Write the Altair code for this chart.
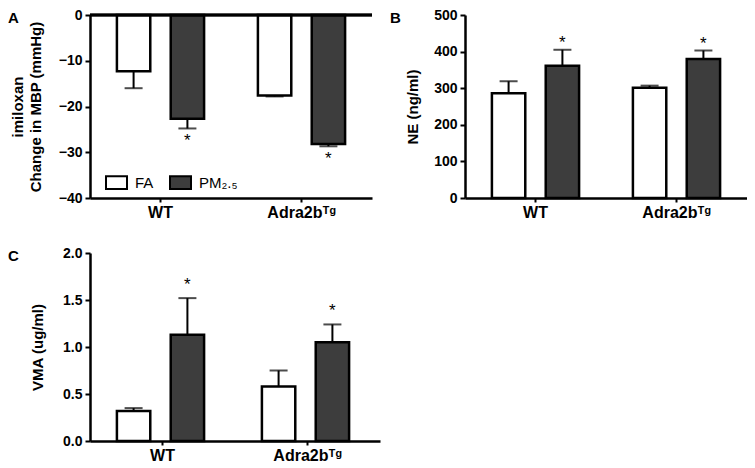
import altair as alt
import pandas as pd

group_order = ["WT", "Adra2bᵀᵍ"]
series_order = ["FA", "PM₂.₅"]
groups = ["WT", "WT", "Adra2bᵀᵍ", "Adra2bᵀᵍ"]
series = ["FA", "PM₂.₅", "FA", "PM₂.₅"]
stars = ["", "*", "", "*"]

a_mean = [-12.3, -22.7, -17.6, -28.2]
a_sem = [3.7, 2.1, 0.2, 0.5]
b_mean = [286, 361, 301, 380]
b_sem = [33, 44, 6, 23]
c_mean = [0.32, 1.13, 0.58, 1.05]
c_sem = [0.03, 0.39, 0.17, 0.19]

a_ticks = [0, -10, -20, -30, -40]
b_ticks = [0, 100, 200, 300, 400, 500]
c_ticks = [0.0, 0.5, 1.0, 1.5, 2.0]

FONT = "Liberation Sans"
DARK = "#3d3d3d"
RECT = "M-1,-0.6H1V0.6H-1Z"


def panel(mean, sem, sign, letter, letter_dx, ytitle, ydomain, yticks, yfmt,
          title_pad, width, height, legend, star_dy, zero_line=False):
    df = pd.DataFrame({
        "group": groups,
        "series": series,
        "mean": mean,
        "end": [m + sign * s for m, s in zip(mean, sem)],
        "star": stars,
    })
    xenc = alt.X("group:N", sort=group_order,
                 scale=alt.Scale(paddingInner=0, paddingOuter=0),
                 axis=alt.Axis(title=None, labelAngle=0, tickSize=4, labelPadding=2,
                               labelFontSize=16))
    xoff = alt.XOffset("series:N", sort=series_order,
                       scale=alt.Scale(paddingInner=0.38, paddingOuter=0.5))
    yscale = alt.Scale(domain=ydomain, nice=False)
    yaxis = alt.Axis(title=ytitle, values=yticks, format=yfmt, tickSize=5,
                     labelPadding=3, titlePadding=title_pad, grid=False,
                     titleLineHeight=18)
    base = alt.Chart(df).encode(x=xenc, xOffset=xoff)
    bars = base.mark_bar(stroke="black", strokeWidth=2.5).encode(
        y=alt.Y("mean:Q", scale=yscale, axis=yaxis),
        fill=alt.Fill("series:N", sort=series_order,
                      scale=alt.Scale(domain=series_order, range=["white", DARK]),
                      legend=legend),
    )
    errs = base.mark_rule(color="black", strokeWidth=2).encode(
        y=alt.Y("mean:Q", scale=yscale, axis=yaxis), y2="end:Q")
    caps = base.mark_tick(color="black", thickness=2, size=18).encode(
        y=alt.Y("end:Q", scale=yscale, axis=yaxis))
    star_layer = base.transform_filter("datum.star != ''").mark_text(
        font=FONT, fontSize=17, color="black", dy=star_dy).encode(
        y=alt.Y("end:Q", scale=yscale, axis=yaxis), text="star:N")
    layers = [bars, errs, caps, star_layer]
    if zero_line:
        zl = alt.Chart(df).mark_rule(color="black", strokeWidth=2.5).encode(
            y=alt.datum(0))
        layers.append(zl)
    return alt.layer(*layers).properties(
        width=width, height=height,
        title=alt.TitleParams(letter, anchor="start", frame="group", dx=letter_dx,
                              dy=25, offset=0, baseline="middle", fontSize=15,
                              fontWeight="bold", font=FONT, color="black"),
    )


def legend(x, y, direction, row_pad):
    return alt.Legend(title=None, orient="none", legendX=x, legendY=y,
                      direction=direction, symbolType=RECT, symbolSize=441,
                      symbolStrokeColor="black", symbolStrokeWidth=2,
                      symbolOpacity=1, labelFont=FONT, labelFontSize=15,
                      labelFontWeight="normal", labelColor="black", labelOffset=7,
                      rowPadding=row_pad, columnPadding=12)


A = panel(a_mean, a_sem, -1, "A", -82, ["imiloxan", "Change in MBP (mmHg)"],
          [-40, 0], a_ticks, "d", 15, 282, 183,
          legend(15, 156, "horizontal", 0), 13, zero_line=True)
B = panel(b_mean, b_sem, 1, "B", -75, "NE (ng/ml)", [0, 500], b_ticks, "d",
          13, 282, 183, legend(7, -1, "vertical", 0), -7)
C = panel(c_mean, c_sem, 1, "C", -82, "VMA (ug/ml)", [0, 2], c_ticks, ".1f",
          17, 290, 188, legend(8, 0, "vertical", 3), -13)

chart = alt.concat(
    A, B, C,
    columns=2,
    spacing={"row": 55, "column": 85},
    bounds="flush",
).properties(padding=0).configure_axis(
    domainColor="black", domainWidth=2.5, tickColor="black", tickWidth=2,
    labelColor="black", labelFont=FONT, labelFontWeight="bold", labelFontSize=14,
    titleFont=FONT, titleFontWeight="bold", titleFontSize=15, titleColor="black",
    grid=False,
).configure_view(stroke=None)

chart.save("out.html", embed_options={"renderer": "svg", "actions": False})
